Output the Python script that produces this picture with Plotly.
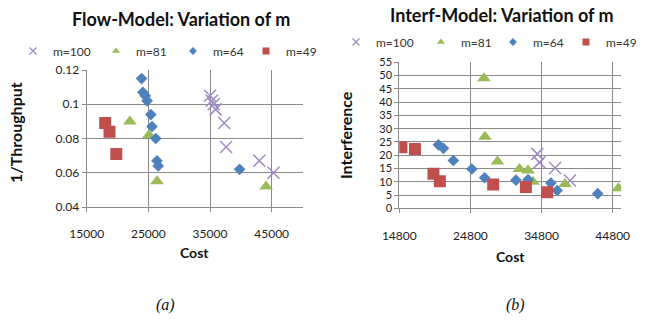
import plotly.graph_objects as go

# ---- data: Flow-Model (a) ----
flow_m100_cost = [35000, 35300, 35600, 35900, 37300, 37600, 43000, 45300]
flow_m100_val = [0.105, 0.102, 0.100, 0.097, 0.089, 0.075, 0.067, 0.060]
flow_m81_cost = [22000, 25100, 26400, 44100]
flow_m81_val = [0.090, 0.082, 0.055, 0.052]
flow_m64_cost = [23900, 24100, 24500, 24800, 25400, 25600, 26200, 26400, 26600, 39800]
flow_m64_val = [0.115, 0.107, 0.105, 0.102, 0.094, 0.087, 0.080, 0.067, 0.064, 0.062]
flow_m49_cost = [18000, 18700, 19800]
flow_m49_val = [0.089, 0.084, 0.071]

# ---- data: Interf-Model (b) ----
int_m100_cost = [34200, 34500, 36700, 38800]
int_m100_val = [20.5, 17.3, 15.2, 10.5]
int_m81_cost = [26700, 26850, 28600, 31700, 32900, 33600, 38100, 45600]
int_m81_val = [49, 27, 17.6, 14.8, 14.2, 10, 9.2, 7.6]
int_m64_cost = [20300, 21000, 22400, 25000, 26800, 31200, 32900, 36100, 37000, 42700]
int_m64_val = [23.9, 22.6, 18, 14.8, 11.5, 10.6, 10.8, 9.5, 6.7, 5.5]
int_m49_cost = [15100, 17000, 19600, 20500, 28000, 32600, 35600]
int_m49_val = [23, 22.3, 13, 10.2, 9, 8, 6]

series_names = ["m=100", "m=81", "m=64", "m=49"]
flow_x_ticks = [15000, 25000, 35000, 45000]
flow_y_ticks = [0.04, 0.06, 0.08, 0.1, 0.12]
int_x_ticks = [14800, 24800, 34800, 44800]
int_y_ticks = list(range(0, 60, 5))

W, H = 656, 320
FONT = "Lato, 'Open Sans', 'DejaVu Sans', sans-serif"
PURPLE, GREEN, BLUE, RED = "#9f8ac4", "#9bbb59", "#4f81bd", "#c0504d"
GRID = "#8a8a8a"

styles = [
    dict(symbol="x-thin", size=12, color=PURPLE, line=dict(width=1.5, color=PURPLE)),
    dict(symbol="triangle-up", size=12, color=GREEN),
    dict(symbol="diamond", size=9, color=BLUE),
    dict(symbol="square", size=12, color=RED),
]
legend_styles = [
    dict(symbol="x-thin", size=7, color=PURPLE, line=dict(width=1.2, color=PURPLE)),
    dict(symbol="triangle-up", size=7, color=GREEN),
    dict(symbol="diamond", size=6, color=BLUE),
    dict(symbol="square", size=7, color=RED),
]

def px(v):
    return v / W

def py(v):
    return 1 - v / H

fig = go.Figure()

flow = [(flow_m100_cost, flow_m100_val), (flow_m81_cost, flow_m81_val),
        (flow_m64_cost, flow_m64_val), (flow_m49_cost, flow_m49_val)]
intf = [(int_m100_cost, int_m100_val), (int_m81_cost, int_m81_val),
        (int_m64_cost, int_m64_val), (int_m49_cost, int_m49_val)]

for (xs, ys), st, nm in zip(flow, styles, series_names):
    fig.add_trace(go.Scatter(x=xs, y=ys, mode="markers", marker=st, name=nm,
                             showlegend=False, xaxis="x", yaxis="y"))
for (xs, ys), st, nm in zip(intf, styles, series_names):
    fig.add_trace(go.Scatter(x=xs, y=ys, mode="markers", marker=st, name=nm,
                             showlegend=False, xaxis="x2", yaxis="y2"))

# legend entries: one small legend per entry so each can sit where the original puts it
left_text_x = [55, 138, 215, 288]
right_text_x = [378, 463, 535, 608]
legend_layouts = {}
k = 1
for group, xs_text, ytxt, ax, ay in [("L", left_text_x, 51, "x", "y"),
                                      ("R", right_text_x, 42, "x2", "y2")]:
    for st, nm, tx in zip(legend_styles, series_names, xs_text):
        lname = "legend" if k == 1 else f"legend{k}"
        fig.add_trace(go.Scatter(x=[None], y=[None], mode="markers", marker=st, name=nm,
                                 legend=lname, xaxis=ax, yaxis=ay))
        legend_layouts[lname] = dict(
            orientation="h", x=px(tx - 42), y=py(ytxt), xanchor="left", yanchor="middle",
            font=dict(family=FONT, size=12, color="#333"), bgcolor="rgba(0,0,0,0)",
            itemwidth=30, borderwidth=0)
        k += 1

def axis_style():
    return dict(showgrid=True, gridcolor=GRID, gridwidth=1, zeroline=False,
                showline=True, linecolor=GRID, linewidth=1, mirror=False,
                ticks="outside", ticklen=4, tickcolor=GRID, automargin=False,
                tickfont=dict(family=FONT, size=12, color="#222"))

fig.update_layout(
    template="none",
    width=W, height=H, margin=dict(l=0, r=0, t=0, b=0, pad=0),
    paper_bgcolor="white", plot_bgcolor="white",
    showlegend=True,
    xaxis=dict(domain=[px(86.7), px(302.5)], range=[15000, 50000], tickvals=flow_x_ticks,
               tickformat="d", anchor="y", ticklabelstandoff=12, **axis_style()),
    yaxis=dict(domain=[py(207), py(70)], range=[0.04, 0.12], tickvals=flow_y_ticks,
               anchor="x", **axis_style()),
    xaxis2=dict(domain=[px(399.3), px(621.2)], range=[14800, 46000], tickvals=int_x_ticks,
                tickformat="d", anchor="y2", ticklabelstandoff=12, **axis_style()),
    yaxis2=dict(domain=[py(208.3), py(62.3)], range=[0, 55], tickvals=int_y_ticks,
                anchor="x2", **axis_style()),
    **legend_layouts,
)
fig.update_layout(yaxis2_tickfont_size=11)

ann = [
    dict(text="<b>Flow-Model: Variation of m</b>", x=px(181), y=py(19), size=18),
    dict(text="<b>Interf-Model: Variation of m</b>", x=px(502), y=py(15), size=18),
    dict(text="<b>Cost</b>", x=px(194), y=py(252), size=14),
    dict(text="<b>Cost</b>", x=px(510), y=py(256), size=14),
]
for a in ann:
    fig.add_annotation(text=a["text"], x=a["x"], y=a["y"], xref="paper", yref="paper",
                       showarrow=False, xanchor="center", yanchor="middle",
                       font=dict(family=FONT, size=a["size"], color="#111"))
for txt, x, y in [("<b>1/Throughput</b>", 15, 133), ("<b>Interference</b>", 345, 135)]:
    fig.add_annotation(text=txt, x=px(x), y=py(y), xref="paper", yref="paper",
                       showarrow=False, textangle=-90, xanchor="center", yanchor="middle",
                       font=dict(family=FONT, size=16, color="#111"))
for txt, x in [("(a)", 165), ("(b)", 515)]:
    fig.add_annotation(text="<i>" + txt + "</i>", x=px(x), y=py(305), xref="paper", yref="paper",
                       showarrow=False, xanchor="center", yanchor="middle",
                       font=dict(family="'Liberation Serif', 'DejaVu Serif', serif", size=16, color="#111"))

fig.write_html("out.html", config={"displayModeBar": False},
               post_script="document.body.style.margin='0px';")
